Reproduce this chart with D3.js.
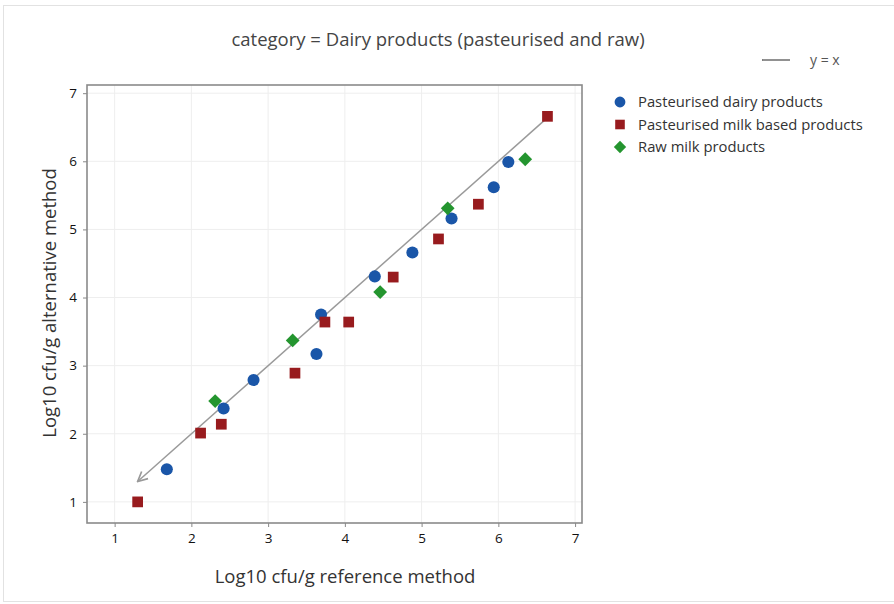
<!DOCTYPE html>
<html>
<head>
<meta charset="utf-8">
<script src="https://cdn.jsdelivr.net/npm/d3@7"></script>
<style>
  body { margin: 0; background: #fff; }
  text { font-family: "Open Sans", "Noto Sans", sans-serif; }
</style>
</head>
<body>
<div id="chart"></div>
<script>
// Data (x = reference method, y = alternative method)
const seriesNames = ["Pasteurised dairy products", "Pasteurised milk based products", "Raw milk products"];
const dairyX = [1.68, 2.42, 2.81, 3.63, 3.69, 4.39, 4.88, 5.39, 5.94, 6.13];
const dairyY = [1.48, 2.37, 2.79, 3.17, 3.75, 4.31, 4.66, 5.16, 5.62, 5.99];
const milkX = [1.30, 2.12, 2.39, 3.35, 3.74, 4.05, 4.63, 5.22, 5.74, 6.64];
const milkY = [1.00, 2.01, 2.14, 2.89, 3.64, 3.64, 4.30, 4.86, 5.37, 6.66];
const rawX = [2.31, 3.32, 4.46, 5.34, 6.35];
const rawY = [2.48, 3.37, 4.08, 5.31, 6.03];
const identityEnds = [6.6, 1.3]; // y = x line, drawn top to bottom with arrow
const xTicks = [1, 2, 3, 4, 5, 6, 7];
const yTicks = [1, 2, 3, 4, 5, 6, 7];

const width = 894, height = 604;
const plot = {left: 87, right: 582, top: 85, bottom: 523};

const svg = d3.select("#chart").append("svg")
  .attr("width", width)
  .attr("height", height);

// light outer border
svg.append("rect")
  .attr("x", 3.5).attr("y", 5.5)
  .attr("width", width - 2).attr("height", height - 8)
  .attr("fill", "none")
  .attr("stroke", "#e2e2e2");

var x = d3.scaleLinear().domain([0.64, 7.09]).range([plot.left, plot.right]);
var y = d3.scaleLinear().domain([0.69, 7.12]).range([plot.bottom, plot.top]);

// grid
var grid = svg.append("g");
grid.selectAll(".vgrid").data(xTicks).enter().append("line")
  .attr("x1", d => x(d)).attr("x2", d => x(d))
  .attr("y1", plot.top).attr("y2", plot.bottom)
  .style("stroke", "#eeeeee");
grid.selectAll(".hgrid").data(yTicks).enter().append("line")
  .attr("y1", d => y(d)).attr("y2", d => y(d))
  .attr("x1", plot.left).attr("x2", plot.right)
  .style("stroke", "#eeeeee");

// axes
var xAxis = svg.append("g")
  .attr("transform", "translate(0," + plot.bottom + ")")
  .call(d3.axisBottom(x).tickValues(xTicks).tickFormat(d3.format("d")).tickSize(4).tickPadding(6));
var yAxis = svg.append("g")
  .attr("transform", "translate(" + plot.left + ",0)")
  .call(d3.axisLeft(y).tickValues(yTicks).tickFormat(d3.format("d")).tickSize(4).tickPadding(6));
[xAxis, yAxis].forEach(function(a) {
  a.select(".domain").remove();
  a.selectAll(".tick line").style("stroke", "#888");
  a.selectAll(".tick text")
    .style("font-size", "13.5px")
    .style("fill", "#111")
    .style("font-family", '"Open Sans", sans-serif');
});

// frame
svg.append("rect")
  .attr("x", plot.left).attr("y", plot.top)
  .attr("width", plot.right - plot.left).attr("height", plot.bottom - plot.top)
  .attr("fill", "none")
  .attr("stroke", "#8a8a8a")
  .attr("stroke-width", 1.6);

// arrow marker for y = x
svg.append("defs").append("marker")
  .attr("id", "arrow")
  .attr("viewBox", "0 0 10 10")
  .attr("refX", 9).attr("refY", 5)
  .attr("markerWidth", 12).attr("markerHeight", 12)
  .attr("markerUnits", "userSpaceOnUse")
  .attr("orient", "auto")
  .append("path")
  .attr("d", "M1,1 L9,5 L1,9")
  .attr("fill", "none")
  .attr("stroke", "#999")
  .attr("stroke-width", 1.4);

svg.append("line")
  .attr("x1", x(identityEnds[0])).attr("y1", y(identityEnds[0]))
  .attr("x2", x(identityEnds[1])).attr("y2", y(identityEnds[1]))
  .style("stroke", "#9a9a9a")
  .style("stroke-width", 1.5)
  .attr("marker-end", "url(#arrow)");

// points (diamond = square turned 45 degrees)
var colors = ["#1a56a8", "#981b1e", "#24952f"];
var symbols = [d3.symbolCircle, d3.symbolSquare, d3.symbolSquare];
var sizes = [115, 115, 95];
var rotations = [0, 0, 45];
var groups = [
  dairyX.map((v, i) => ({x: v, y: dairyY[i]})),
  milkX.map((v, i) => ({x: v, y: milkY[i]})),
  rawX.map((v, i) => ({x: v, y: rawY[i]}))
];

groups.forEach(function(pts, k) {
  svg.append("g").selectAll("path").data(pts).enter().append("path")
    .attr("transform", d => "translate(" + x(d.x) + "," + y(d.y) + ") rotate(" + rotations[k] + ")")
    .attr("d", d3.symbol().type(symbols[k]).size(sizes[k]))
    .style("fill", colors[k]);
});

// title
svg.append("text")
  .attr("x", 438).attr("y", 46)
  .attr("text-anchor", "middle")
  .style("font-size", "18.5px")
  .style("fill", "#444")
  .text("category = Dairy products (pasteurised and raw)");

// axis titles
svg.append("text")
  .attr("x", 345).attr("y", 583)
  .attr("text-anchor", "middle")
  .style("font-size", "18.5px")
  .style("fill", "#333")
  .text("Log10 cfu/g reference method");
svg.append("text")
  .attr("transform", "translate(56,303) rotate(-90)")
  .attr("text-anchor", "middle")
  .style("font-size", "18.5px")
  .style("fill", "#333")
  .text("Log10 cfu/g alternative method");

// legend: y = x
svg.append("line")
  .attr("x1", 762).attr("x2", 790)
  .attr("y1", 60).attr("y2", 60)
  .style("stroke", "#555")
  .style("stroke-width", 1.3);
svg.append("text")
  .attr("x", 810).attr("y", 64.5)
  .style("font-size", "14px")
  .style("fill", "#555")
  .text("y = x");

// legend: series
var legend = svg.append("g").selectAll("g").data(seriesNames).enter().append("g")
  .attr("transform", (d, i) => "translate(620," + (102 + i * 22.5) + ")");
legend.append("path")
  .attr("d", (d, i) => d3.symbol().type(symbols[i]).size(sizes[i] * 0.8)())
  .attr("transform", (d, i) => "rotate(" + rotations[i] + ")")
  .style("fill", (d, i) => colors[i]);
legend.append("text")
  .attr("x", 18).attr("y", 5)
  .style("font-size", "14.8px")
  .style("fill", "#333")
  .text(d => d);
</script>
</body>
</html>
